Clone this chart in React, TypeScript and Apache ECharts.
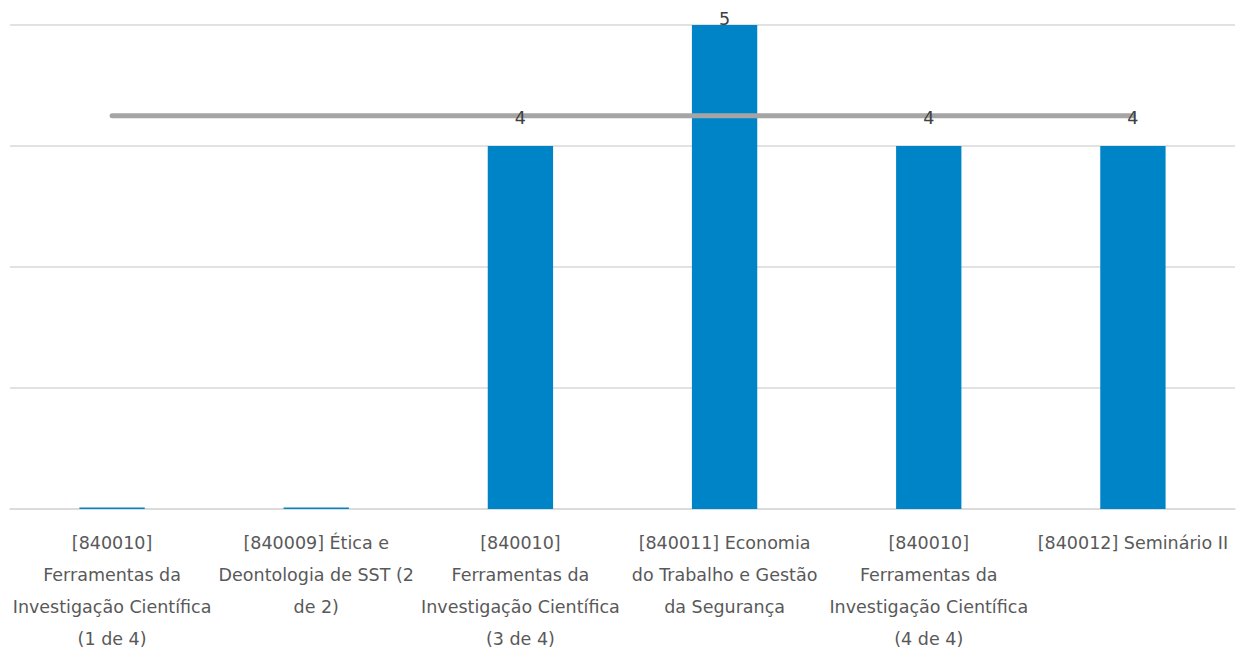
import React, { useEffect, useRef } from "react";
import * as echarts from "echarts";

const categories = [
  "[840010]\nFerramentas da\nInvestigação Científica\n(1 de 4)",
  "[840009] Ética e\nDeontologia de SST (2\nde 2)",
  "[840010]\nFerramentas da\nInvestigação Científica\n(3 de 4)",
  "[840011] Economia\ndo Trabalho e Gestão\nda Segurança",
  "[840010]\nFerramentas da\nInvestigação Científica\n(4 de 4)",
  "[840012] Seminário II",
];
const scores = [0, 0, 4, 5, 4, 4];
const average = [4.25, 4.25, 4.25, 4.25, 4.25, 4.25];
const yTicks = [1, 2, 3, 4, 5];

const FONT = "'DejaVu Sans'";
const BAR_COLOR = "#0084C8";
const TEXT_COLOR = "#595959";

export default function App() {
  const ref = useRef<HTMLDivElement>(null);
  useEffect(() => {
    if (!ref.current) return;
    const chart = echarts.init(ref.current, undefined, { renderer: "svg" });
    const yMin = yTicks[0];
    const yMax = yTicks[yTicks.length - 1];
    const data = scores.map((v, i) => [i, v]);
    chart.setOption({
      animation: false,
      grid: { left: 10, right: 6, top: 25, bottom: 142, containLabel: false },
      xAxis: {
        type: "category",
        data: categories,
        axisLine: { show: true, lineStyle: { color: "#d9d9d9", width: 1.5 } },
        axisTick: { show: false },
        axisLabel: {
          interval: 0,
          margin: 18,
          color: TEXT_COLOR,
          fontFamily: FONT,
          fontSize: 17.5,
          lineHeight: 32,
        },
      },
      yAxis: {
        type: "value",
        min: yMin,
        max: yMax,
        interval: 1,
        axisLabel: { show: false },
        axisLine: { show: false },
        axisTick: { show: false },
        splitLine: { lineStyle: { color: "#d9d9d9", width: 1.5 } },
      },
      series: [
        {
          type: "custom",
          z: 2,
          data,
          encode: { x: 0, y: 1 },
          renderItem: (params: any, api: any) => {
            const idx = api.value(0);
            const v = api.value(1);
            const base = api.coord([idx, yMin]);
            const w = api.size([1, 0])[0] * 0.32;
            if (v <= yMin) {
              return {
                type: "rect",
                shape: { x: base[0] - w / 2, y: base[1] - 1.5, width: w, height: 1.5 },
                style: { fill: BAR_COLOR },
              };
            }
            const top = api.coord([idx, v]);
            return {
              type: "rect",
              shape: { x: base[0] - w / 2, y: top[1], width: w, height: base[1] - top[1] },
              style: { fill: BAR_COLOR },
            };
          },
        },
        {
          type: "line",
          z: 3,
          data: average,
          symbol: "none",
          lineStyle: { color: "#a5a5a5", width: 5, cap: "round" },
        },
        {
          type: "custom",
          z: 4,
          data,
          encode: { x: 0, y: 1 },
          renderItem: (params: any, api: any) => {
            const idx = api.value(0);
            const v = api.value(1);
            if (v <= yMin) return null;
            const top = api.coord([idx, v]);
            const y = Math.max(top[1] - 28, 19);
            return {
              type: "text",
              x: top[0],
              y,
              style: {
                text: String(v),
                fill: "#404040",
                font: `17.5px ${FONT}`,
                align: "center",
                verticalAlign: "middle",
              },
            };
          },
        },
      ],
    });
    return () => chart.dispose();
  }, []);
  return <div ref={ref} style={{ width: 1241, height: 655, position: "absolute", left: 0, top: 0 }} />;
}
